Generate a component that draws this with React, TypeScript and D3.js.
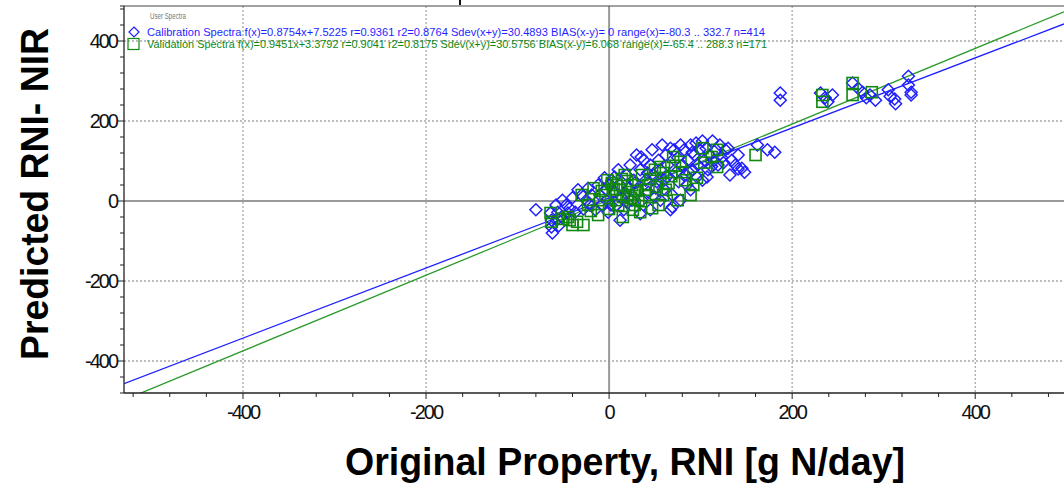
import React from "react";
import * as d3 from "d3";

// ---- data ----
const xTicks = [-400, -200, 0, 200, 400];
const yTicks = [-400, -200, 0, 200, 400];

const calibrationFit = { slope: 0.8754, intercept: 7.5225 };
const validationFit = { slope: 0.9451, intercept: 3.3792 };

const legendLabels = [
  "Calibration Spectra f(x)=0.8754x+7.5225 r=0.9361 r2=0.8764 Sdev(x+y)=30.4893 BIAS(x-y)= 0 range(x)=-80.3 .. 332.7 n=414",
  "Validation Spectra f(x)=0.9451x+3.3792 r=0.9041 r2=0.8175 Sdev(x+y)=30.5756 BIAS(x-y)=6.068 range(x)=-65.4 .. 288.3 n=171",
];

const calibrationPoints: [number, number][] = [
  [-80, -22], [-64, -30], [-63, -48], [-63, -65], [-62, -80], [-58, -10], [-56, -28], [-56, -45],
  [-55, -62], [-51, 2], [-47, -10], [-43, -18], [-37, -28], [-40, 8], [-34, 28], [-30, 15],
  [-25, 2], [-23, 32], [-21, -10], [-19, 15], [-15, -22], [-12, 40], [-10, 15], [-8, -10],
  [-5, 58], [-3, 28], [-3, 2], [-1, -28], [3, 52], [5, 22], [8, -10], [10, 78], [12, 40],
  [14, 8], [16, -22], [19, 65], [21, 32], [23, 90], [25, 2], [27, 52], [30, 115], [32, 28],
  [34, 78], [36, 2], [38, 102], [40, 52], [43, 22], [45, 90], [47, 128], [49, 65], [51, 32],
  [54, 102], [56, 78], [58, 140], [60, 52], [62, 115], [64, 90], [67, 132], [69, 15], [71, 128],
  [73, 72], [75, 108], [78, 140], [80, 90], [82, 128], [84, 65], [86, 102], [89, 140], [91, 78],
  [93, 115], [95, 145], [97, 90], [99, 128], [102, 150], [104, 102], [106, 132], [108, 78],
  [110, 115], [113, 150], [115, 102], [117, 128], [119, 90], [121, 140], [123, 108], [127, 128],
  [130, 132], [134, 102], [138, 90], [141, 115], [145, 82], [148, 72], [132, 65], [102, 52],
  [89, 28], [78, 2], [56, 2], [67, -22], [45, -22], [34, -32], [12, -48], [162, 140], [173, 128],
  [181, 122], [141, 80], [107, 60], [69, -15], [35, 110], [91, 122], [0, 40], [6, 60], [18, 20],
  [28, 45], [42, 70], [52, 48], [63, 60], [76, 48], [88, 70], [96, 60], [112, 86], [125, 96],
  [-28, -20], [-45, -30], [-52, -40], [2, -10], [20, -5], [50, 10], [60, 30], [85, 40],
  [187, 270], [187, 252], [231, 270], [236, 258], [239, 248], [244, 265], [266, 295], [272, 282],
  [277, 272], [281, 258], [285, 265], [291, 252], [305, 278], [307, 262], [312, 255], [313, 243],
  [327, 312], [327, 290], [330, 272], [330, 265],
];

const validationPoints: [number, number][] = [
  [-64, -30], [-63, -52], [-43, -48], [-40, -60], [-28, -60], [-30, 15], [-17, 32], [-10, 2],
  [-4, 15], [3, 45], [7, 2], [12, 28], [17, 65], [15, -40], [21, 15], [25, 40], [28, -10],
  [34, -28], [36, 65], [39, 15], [43, 40], [47, -18], [50, 78], [56, 85], [59, 70], [62, 28],
  [70, 110], [78, 98], [83, 52], [92, 40], [89, 15], [102, 132], [118, 128], [118, 85],
  [75, 2], [54, -10], [32, 2], [10, -10], [-12, -35], [-23, -10], [-2, 52], [59, 15],
  [5, 30], [20, 50], [30, 25], [45, 55], [65, 45], [-8, 25], [0, -20], [15, 10],
  [-45, -40], [-35, -52], [-20, -25], [8, 40], [14, 55], [24, 8], [40, 28], [52, 35],
  [68, 62], [72, 88], [80, 72], [96, 58], [104, 96], [112, 110], [-50, -45], [26, -22],
  [160, 115], [233, 265], [233, 248], [266, 295], [266, 265], [287, 272],
];

const W = 1064;
const H = 487;
const left = 124;
const right = 1064;
const top = 6;
const bottom = 393;

const BLUE = "#1f1fff";
const GREEN = "#118811";

export default function App() {
  const x = d3.scaleLinear().domain([-530, 497]).range([left, right]);
  const y = d3.scaleLinear().domain([-480, 487.5]).range([bottom, top]);

  const minorX = d3.range(-520, 497, 40);
  const minorY = d3.range(-480, 488, 40);

  const fitLine = (f: { slope: number; intercept: number }) => {
    const [x0, x1] = x.domain();
    return d3.line<number>()
      .x((v) => x(v))
      .y((v) => y(f.slope * v + f.intercept))([x0, x1]) as string;
  };

  const diamond = (cx: number, cy: number, r: number) =>
    `M${cx},${cy - r}L${cx + r},${cy}L${cx},${cy + r}L${cx - r},${cy}Z`;

  const tickFont = "'Liberation Sans Narrow', 'Liberation Sans', Arial, sans-serif";

  return (
    <svg width={W} height={H} style={{ position: "absolute", left: 0, top: 0, background: "#fff" }}>
      <defs>
        <clipPath id="plot">
          <rect x={left} y={top} width={right - left} height={bottom - top} />
        </clipPath>
      </defs>

      {/* grid */}
      {xTicks.filter((t) => t !== 0).map((t) => (
        <line key={"gx" + t} x1={x(t)} x2={x(t)} y1={top} y2={bottom} stroke="#a8a8a8" strokeWidth={1.3} strokeDasharray="2,2" />
      ))}
      {yTicks.filter((t) => t !== 0).map((t) => (
        <line key={"gy" + t} x1={left} x2={right} y1={y(t)} y2={y(t)} stroke="#a8a8a8" strokeWidth={1.3} strokeDasharray="2,2" />
      ))}
      <line x1={x(0)} x2={x(0)} y1={top} y2={bottom} stroke="#9a9a9a" strokeWidth={2} />
      <line x1={left} x2={right} y1={y(0)} y2={y(0)} stroke="#9a9a9a" strokeWidth={2} />

      {/* fit lines */}
      <g clipPath="url(#plot)">
        <path d={fitLine(calibrationFit)} stroke={BLUE} strokeWidth={1.3} fill="none" />
        <path d={fitLine(validationFit)} stroke="#2a9a2a" strokeWidth={1.3} fill="none" />
      </g>

      {/* points */}
      <g clipPath="url(#plot)">
        {calibrationPoints.map(([a, b], i) => (
          <path key={"c" + i} d={diamond(x(a), y(b), 6)} fill="none" stroke={BLUE} strokeWidth={1.5} />
        ))}
        {validationPoints.map(([a, b], i) => (
          <rect key={"v" + i} x={x(a) - 5.5} y={y(b) - 5.5} width={11} height={11} fill="none" stroke={GREEN} strokeWidth={1.6} />
        ))}
      </g>

      {/* frame */}
      <line x1={left} x2={right} y1={top} y2={top} stroke="#444" strokeWidth={1} />
      <line x1={left - 4} x2={left} y1={top} y2={top} stroke="#222" strokeWidth={1} />
      <line x1={460} x2={460} y1={0} y2={5} stroke="#111" strokeWidth={2} />
      <line x1={left} x2={left} y1={top} y2={bottom} stroke="#222" strokeWidth={1.3} />
      <line x1={left} x2={right} y1={bottom} y2={bottom} stroke="#222" strokeWidth={1.3} />

      {/* y ticks */}
      {minorY.map((t) => (
        <line key={"my" + t} x1={left - (t % 200 === 0 ? 6 : 4)} x2={left} y1={y(t)} y2={y(t)} stroke="#222" strokeWidth={1} />
      ))}
      {yTicks.map((t) => (
        <text key={"ly" + t} x={left - 7} y={y(t)} dy="0.35em" textAnchor="end" fontFamily={tickFont} fontSize={20} letterSpacing={-2} fill="#111">
          {t}
        </text>
      ))}

      {/* x ticks */}
      {minorX.map((t) => (
        <line key={"mx" + t} x1={x(t)} x2={x(t)} y1={bottom} y2={bottom + (t % 200 === 0 ? 6 : 4)} stroke="#222" strokeWidth={1} />
      ))}
      {xTicks.map((t) => (
        <text key={"lx" + t} x={x(t)} y={419} textAnchor="middle" fontFamily={tickFont} fontSize={20} letterSpacing={-2} fill="#111">
          {t}
        </text>
      ))}

      {/* legend */}
      <text x={150} y={19} fontFamily="Liberation Sans, Arial, sans-serif" fontSize={9} fill="#777" textLength={36} lengthAdjust="spacingAndGlyphs">
        User Spectra
      </text>
      <path d={diamond(134, 32, 5)} fill="none" stroke={BLUE} strokeWidth={1.2} />
      <text x={147} y={36} fontFamily="Liberation Sans, Arial, sans-serif" fontSize={11} fill={BLUE} textLength={618} lengthAdjust="spacingAndGlyphs">
        {legendLabels[0]}
      </text>
      <rect x={128} y={38.5} width={11} height={11} fill="none" stroke={GREEN} strokeWidth={1.2} />
      <text x={147} y={48} fontFamily="Liberation Sans, Arial, sans-serif" fontSize={11} fill={GREEN} textLength={620} lengthAdjust="spacingAndGlyphs">
        {legendLabels[1]}
      </text>

      {/* axis titles */}
      <text x={625} y={475} textAnchor="middle" fontFamily="Liberation Sans, Arial, sans-serif" fontWeight="bold" fontSize={38} fill="#000" textLength={560} lengthAdjust="spacingAndGlyphs">
        Original Property, RNI [g N/day]
      </text>
      <text transform="translate(48,194) rotate(-90)" textAnchor="middle" fontFamily="Liberation Sans, Arial, sans-serif" fontWeight="bold" fontSize={38} fill="#000" textLength={332} lengthAdjust="spacingAndGlyphs">
        Predicted RNI- NIR
      </text>
    </svg>
  );
}
